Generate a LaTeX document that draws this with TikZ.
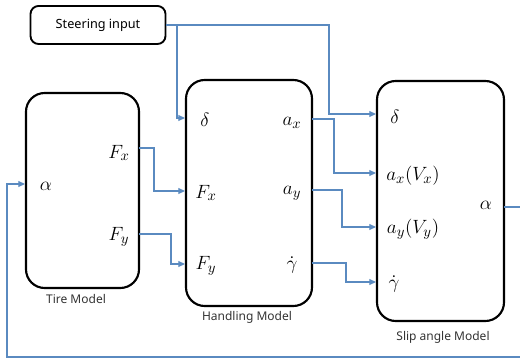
\documentclass[tikz,border=0pt]{standalone}
\usepackage{fontspec}
\setmainfont{Noto Sans}
\usetikzlibrary{arrows.meta}
\definecolor{linkblue}{HTML}{5A8AC0}
\tikzset{
  block/.style={draw=black, line width=1.6pt, rounded corners=14pt, inner sep=0pt},
  inbox/.style={draw=black, line width=1.4pt, rounded corners=6pt, inner sep=0pt,
    minimum width=101.25pt, minimum height=28.5pt, font=\fontsize{9.5}{11}\selectfont},
  link/.style={draw=linkblue, line width=0.8pt, -{Triangle[length=5pt,width=4.5pt]}},
  sig/.style={inner sep=0pt, font=\fontsize{15}{17}\selectfont},
  caption/.style={inner sep=0pt, font=\fontsize{9}{11}\selectfont, text=black!80}
}
\begin{document}
\begin{tikzpicture}[x=0.75pt, y=-0.75pt]
  \useasboundingbox (0,0) rectangle (520,359);

  % blocks
  \node[inbox] (steer) at (98,25) {Steering input};
  \node[block, minimum width=84.75pt, minimum height=146.25pt] (tire) at (82.5,190.5) {};
  \node[block, minimum width=94.5pt, minimum height=169.5pt] (hand) at (249,193) {};
  \node[block, minimum width=95.25pt, minimum height=180pt] (slip) at (440.5,201) {};

  % captions
  \node[caption] (tcap) at (76,299) {Tire Model};
  \node[caption] (hcap) at (247,317) {Handling Model};
  \node[caption] (scap) at (443,337) {Slip angle Model};

  % signals of the tire model
  \node[sig] (talpha) at (46,186) {$\alpha$};
  \node[sig] (tfx) at (119,153) {$F_x$};
  \node[sig] (tfy) at (119,237) {$F_y$};

  % signals of the handling model
  \node[sig] (hdelta) at (205,120) {$\delta$};
  \node[sig] (hfx) at (206,193) {$F_x$};
  \node[sig] (hfy) at (206,266) {$F_y$};
  \node[sig] (hax) at (292,123) {$a_x$};
  \node[sig] (hay) at (292,193) {$a_y$};
  \node[sig] (hgam) at (292,265) {$\dot{\gamma}$};

  % signals of the slip angle model
  \node[sig] (sdelta) at (395,117) {$\delta$};
  \node[sig] (sax) at (413,176) {$a_x(V_x)$};
  \node[sig] (say) at (413,229) {$a_y(V_y)$};
  \node[sig] (sgam) at (394,284) {$\dot{\gamma}$};
  \node[sig] (salpha) at (486,205) {$\alpha$};

  % port points
  \coordinate (pTfx) at (139,148);
  \coordinate (pTfy) at (139,234);
  \coordinate (pHax) at (312,119);
  \coordinate (pHay) at (312,190);
  \coordinate (pHgam) at (312,263);
  \coordinate (pSalpha) at (504,207);
  \coordinate (fbR) at (532,357);
  \coordinate (fbL) at (7,357);

  % steering input to both models
  \draw[link] (steer.east) -| (329,114) -- (slip.west |- 0,114);
  \draw[link] (177,25) |- (hand.west |- 0,118);

  % tire forces to handling model
  \draw[link] (pTfx) -| (154,191) -- (hand.west |- 0,191);
  \draw[link] (pTfy) -| (171,264) -- (hand.west |- 0,264);

  % handling outputs to slip angle model
  \draw[link] (pHax) -| (334,173) -- (slip.west |- 0,173);
  \draw[link] (pHay) -| (342,227) -- (slip.west |- 0,227);
  \draw[link] (pHgam) -| (346,282) -- (slip.west |- 0,282);

  % slip angle fed back to the tire model
  \draw[link] (pSalpha) -| (fbR) -- (fbL) |- (tire.west |- 0,184);
\end{tikzpicture}
\end{document}
